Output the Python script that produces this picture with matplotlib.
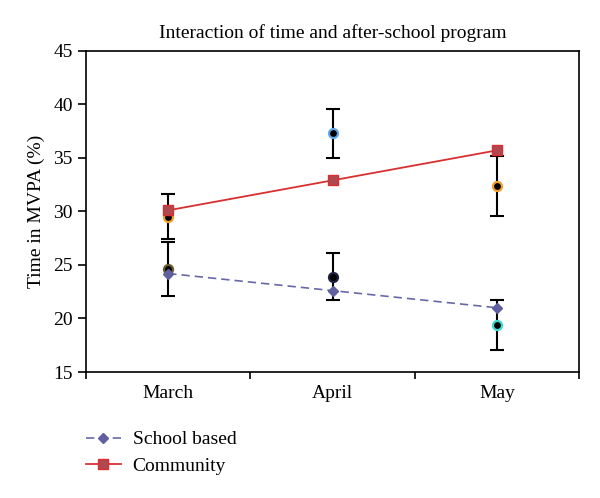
import matplotlib
matplotlib.use("Agg")
import matplotlib.pyplot as plt
from matplotlib.ticker import FixedLocator, NullFormatter

plt.rcParams['font.family'] = ['Liberation Serif', 'DejaVu Serif']

months = ["March", "April", "May"]
school_based = [24.2, 22.6, 21.0]
community = [30.1, 32.9, 35.7]

# points with error bars (group means)
pt_x = [0, 0, 1, 1, 2, 2]
pt_y = [29.5, 24.6, 37.3, 23.9, 32.4, 19.4]
pt_err = [2.1, 2.5, 2.3, 2.2, 2.8, 2.3]
pt_edge = ["#f0a030", "#6b5a30", "#60a8e8", "#202040", "#f0a030", "#40d8d0"]

fig = plt.figure(figsize=(6, 4.98), dpi=100)
ax = fig.add_axes([0.1433, 0.253, 0.822, 0.645])

x = range(len(months))
ax.errorbar(pt_x, pt_y, yerr=pt_err, fmt='none', ecolor='black',
            elinewidth=1.5, capsize=5, capthick=1.5, zorder=2)
for xi, yi, ec in zip(pt_x, pt_y, pt_edge):
    ax.plot(xi, yi, 'o', ms=6.5, mfc='black', mec=ec, mew=1.6, zorder=3)

ax.plot(x, school_based, '--', color='#6868a8', lw=1.2, dashes=(5, 3),
        marker='D', ms=5, mfc='#6060a0', mec='#6060a0', label='School based', zorder=4)
ax.plot(x, community, '-', color='#d83030', lw=1.3,
        marker='s', ms=7.5, mfc='#b04850', mec='#d83030', label='Community', zorder=4)

ax.set_xlim(-0.5, 2.5)
ax.set_ylim(15, 45)
ax.set_yticks(range(15, 46, 5))
ax.xaxis.set_major_locator(FixedLocator([-0.5, 0.5, 1.5, 2.5]))
ax.xaxis.set_major_formatter(NullFormatter())
ax.xaxis.set_minor_locator(FixedLocator(list(x)))
ax.set_xticklabels(months, minor=True)
ax.tick_params(axis='x', which='major', direction='out', length=5, width=1.2)
ax.tick_params(axis='x', which='minor', length=0, pad=9, labelsize=14)
ax.tick_params(axis='y', direction='out', length=6, width=1.2, labelsize=14)
for s in ax.spines.values():
    s.set_linewidth(1.2)

ax.set_ylabel("Time in MVPA (%)", fontsize=14, labelpad=6)
ax.set_title("Interaction of time and after-school program", fontsize=14, pad=9)

ax.legend(loc='upper left', bbox_to_anchor=(0.0, -0.183), frameon=False,
          fontsize=14, handlelength=1.8, handletextpad=0.6, labelspacing=0.45,
          borderaxespad=0, borderpad=0)

fig.savefig("out.png", dpi=100)
